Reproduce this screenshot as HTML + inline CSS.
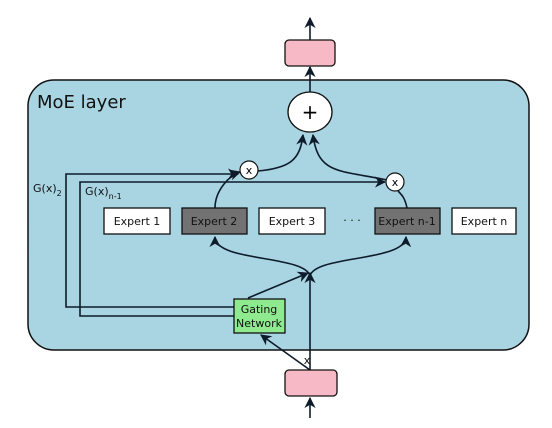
<html><body style="margin:0;background:#fff">
<svg width="552" height="428" xmlns="http://www.w3.org/2000/svg" font-family="DejaVu Sans, sans-serif">
<defs><marker id="a" viewBox="0 0 10 10" refX="9" refY="5" markerWidth="7" markerHeight="7" orient="auto"><path d="M0,0 L10,5 L0,10 L3,5z" fill="#0d1b2a"/></marker></defs>
<rect x="28" y="80" width="501" height="270" rx="26" fill="#a9d4e2" stroke="#111" stroke-width="1.5"/>
<text x="37" y="108" font-size="18" fill="#111">MoE layer</text>
<g fill="none" stroke="#0d1b2a" stroke-width="1.6">
<line x1="310" y1="40" x2="310" y2="18" marker-end="url(#a)"/>
<line x1="310" y1="418" x2="310" y2="398" marker-end="url(#a)"/>
<line x1="310" y1="92" x2="310" y2="67" marker-end="url(#a)"/>
<polyline points="234,307 66,307 66,174 238,174" marker-end="url(#a)"/>
<polyline points="234,316 80,316 80,182 385,182" marker-end="url(#a)"/>
<line x1="310" y1="370" x2="310" y2="273" marker-end="url(#a)"/>
<line x1="248" y1="298" x2="308" y2="273" marker-end="url(#a)"/>
<line x1="310" y1="370" x2="261" y2="335" marker-end="url(#a)"/>
<path d="M310,276 C305,255 215,262 215,237" marker-end="url(#a)"/>
<path d="M310,276 C315,255 405,262 406,237" marker-end="url(#a)"/>
<path d="M215,208 C215,190 230,175 240,172" marker-end="url(#a)"/>
<path d="M258,171 C290,168 300,160 303,135" marker-end="url(#a)"/>
<path d="M407,208 C405,198 402,195 398,191"/>
<path d="M387,180 C340,170 318,175 313,135" marker-end="url(#a)"/>
</g>
<rect x="285" y="40" width="50" height="26" rx="4" fill="#f8b9c6" stroke="#111" stroke-width="1.3"/>
<rect x="285" y="370" width="52" height="26" rx="4" fill="#f8b9c6" stroke="#111" stroke-width="1.3"/>
<ellipse cx="310" cy="112" rx="22" ry="20" fill="#fff" stroke="#111" stroke-width="1.3"/>
<text x="310" y="119" font-size="20" text-anchor="middle">+</text>
<circle cx="249" cy="170" r="9" fill="#fff" stroke="#111" stroke-width="1.2"/>
<text x="249" y="174" font-size="11" text-anchor="middle">x</text>
<circle cx="395" cy="182" r="9" fill="#fff" stroke="#111" stroke-width="1.2"/>
<text x="395" y="186" font-size="11" text-anchor="middle">x</text>
<g stroke="#111" stroke-width="1.3" font-size="11">
<rect x="104" y="208" width="66" height="26" fill="#fff"/>
<rect x="182" y="208" width="65" height="26" fill="#727272"/>
<rect x="259" y="208" width="66" height="26" fill="#fff"/>
<rect x="375" y="208" width="65" height="26" fill="#727272"/>
<rect x="452" y="208" width="64" height="26" fill="#fff"/>
<rect x="234" y="299" width="51" height="34" fill="#8fe98f"/>
</g>
<g font-size="11" text-anchor="middle" fill="#111">
<text x="137" y="225">Expert 1</text>
<text x="214" y="225">Expert 2</text>
<text x="292" y="225">Expert 3</text>
<text x="407" y="225">Expert n-1</text>
<text x="484" y="225">Expert n</text>
<text x="259" y="313">Gating</text>
<text x="259" y="327">Network</text>
<text x="352" y="224">· · ·</text>
<text x="307" y="364">x</text>
</g>
<text x="33" y="192" font-size="11" fill="#111">G(x)<tspan font-size="8" dy="4">2</tspan></text>
<text x="85" y="195" font-size="11" fill="#111">G(x)<tspan font-size="8" dy="4">n-1</tspan></text>
</svg>
</body></html>
